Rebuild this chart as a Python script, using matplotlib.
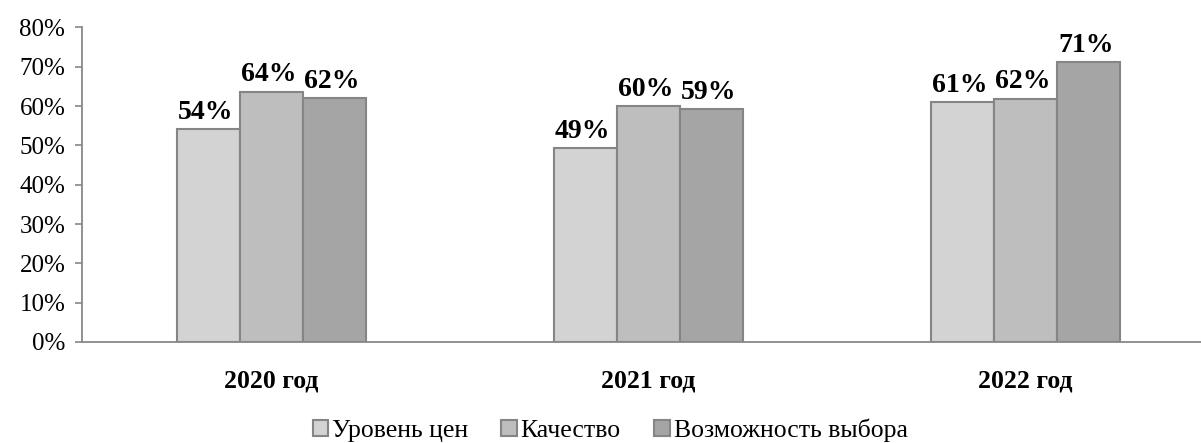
import numpy as np
import matplotlib
matplotlib.use('Agg')
from matplotlib import pyplot as plt
from matplotlib.ticker import FuncFormatter

plt.rcParams['font.family'] = ['Liberation Serif', 'DejaVu Serif']

# data
years = ['2020 год', '2021 год', '2022 год']
series = ['Уровень цен', 'Качество', 'Возможность выбора']
price = [54.2, 49.3, 61.0]
quality = [63.7, 60.0, 61.9]
choice = [62.0, 59.2, 71.2]
values = [price, quality, choice]

colors = ['#d3d3d3', '#bebebe', '#a5a5a5']
edge = '#858585'

fig = plt.figure(figsize=(12.01, 4.43), dpi=100)
ax = fig.add_axes([0.0683, 0.228, 0.9317, 0.71])

x = np.arange(len(years))
w = 0.167
for i, (name, vals, c) in enumerate(zip(series, values, colors)):
    pos = x + (i - 1) * w
    bars = ax.bar(pos, vals, w, color=c, edgecolor=edge, linewidth=1.5, label=name)
    for b, v in zip(bars, vals):
        ax.annotate(f'{round(v)}%', (b.get_x() + b.get_width() / 2, v),
                    xytext=(-2, 3), textcoords='offset points',
                    ha='center', va='bottom', fontsize=20, fontweight='bold')

ax.set_ylim(0, 80)
ax.set_yticks(range(0, 81, 10))
ax.yaxis.set_major_formatter(FuncFormatter(lambda v, p: f'{v:.0f}%'))
ax.set_xlim(-0.5027, 2.4655)
ax.set_xticks(x)
ax.set_xticklabels(years, fontsize=18.5, fontweight='bold')
ax.tick_params(axis='x', length=0, pad=20)
ax.tick_params(axis='y', labelsize=18, length=5, color='#888888', width=1.2, pad=7)

for s in ['top', 'right']:
    ax.spines[s].set_visible(False)
for s in ['left', 'bottom']:
    ax.spines[s].set_color('#888888')
    ax.spines[s].set_linewidth(1.3)

fig.legend(loc='center', bbox_to_anchor=(0.508, 0.028), ncol=3, frameon=False,
           fontsize=18.5, handlelength=0.6, handleheight=0.6, handletextpad=0.15,
           columnspacing=1.3)

fig.savefig('out.png', dpi=100)
